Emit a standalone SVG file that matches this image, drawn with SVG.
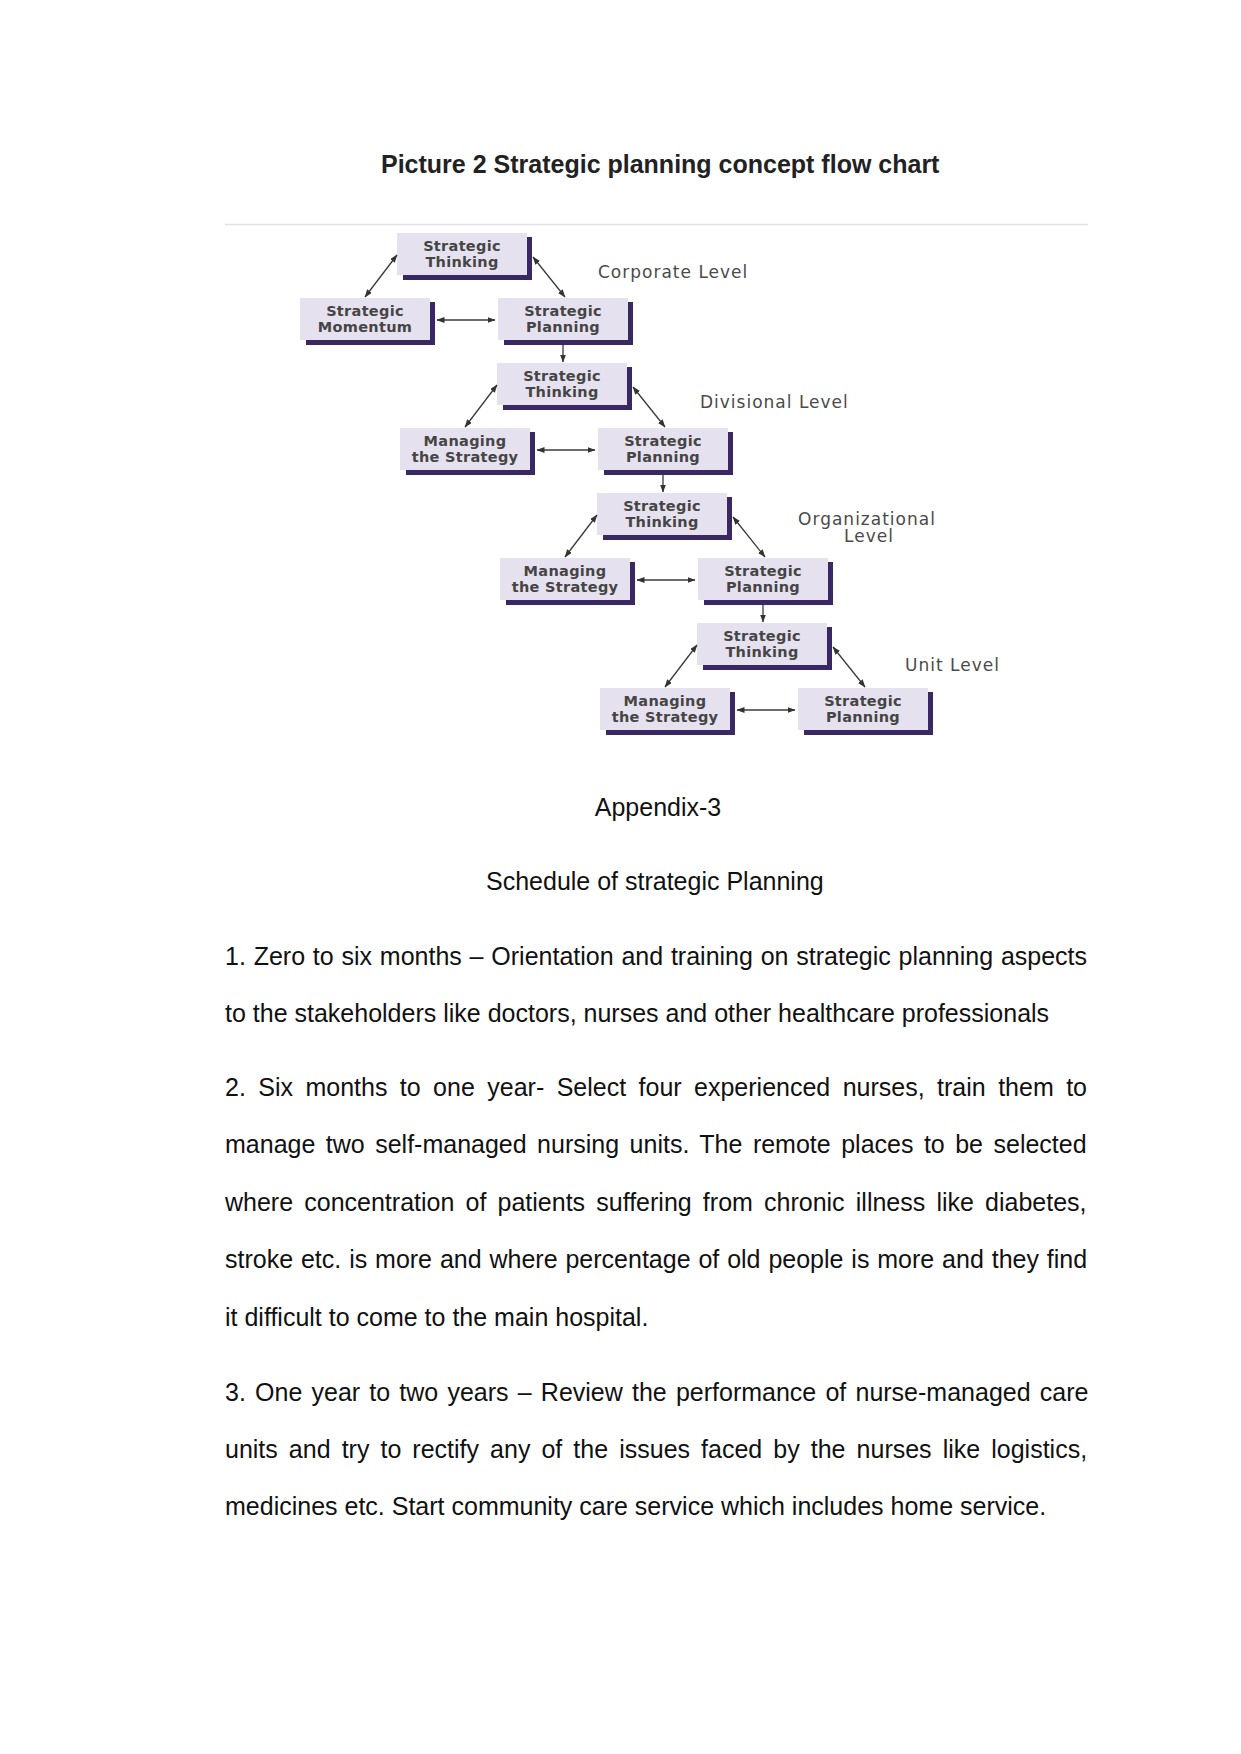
<svg xmlns="http://www.w3.org/2000/svg" width="1241" height="1754" viewBox="0 0 1241 1754">
<style>
.bg{fill:#ffffff}
.title{font-family:"Liberation Sans",Arial,sans-serif;font-size:25px;font-weight:bold;fill:#222}
.body{font-family:"Liberation Sans",Arial,sans-serif;font-size:25px;fill:#111}
.box{fill:#e6e1ef}
.shadow{fill:#392864}
.bt{font-family:"DejaVu Sans",Verdana,sans-serif;font-size:14.5px;font-weight:bold;fill:#454545;text-anchor:middle;letter-spacing:0.3px}
.lvl{font-family:"DejaVu Sans",Verdana,sans-serif;font-size:17px;fill:#4a4a4a;letter-spacing:1px}
.conn{stroke:#3a3a3a;stroke-width:1.3;fill:none}
</style>
<defs>
<marker id="ah" markerWidth="8" markerHeight="6" refX="7.5" refY="3" orient="auto-start-reverse" markerUnits="userSpaceOnUse">
<path d="M0,0 L8,3 L0,6 z" fill="#333"/>
</marker>
</defs>
<rect class="bg" x="0" y="0" width="1241" height="1754"/>

<text class="title" x="381" y="173">Picture 2 Strategic planning concept flow chart</text>
<line x1="225" y1="224.5" x2="1088" y2="224.5" stroke="#e2e2e2" stroke-width="1.5"/>

<!-- Corporate level -->
<g id="n-corp-thinking">
<rect class="shadow" x="403" y="237" width="129" height="43"/>
<rect class="box" x="397" y="233" width="130" height="42"/>
<text class="bt" x="462" y="251">Strategic</text>
<text class="bt" x="462" y="267">Thinking</text>
</g>
<g id="n-corp-momentum">
<rect class="shadow" x="306" y="302" width="129" height="43"/>
<rect class="box" x="300" y="298" width="130" height="42"/>
<text class="bt" x="365" y="316">Strategic</text>
<text class="bt" x="365" y="332">Momentum</text>
</g>
<g id="n-corp-planning">
<rect class="shadow" x="504" y="302" width="129" height="43"/>
<rect class="box" x="498" y="298" width="130" height="42"/>
<text class="bt" x="563" y="316">Strategic</text>
<text class="bt" x="563" y="332">Planning</text>
</g>
<text id="l-corp" class="lvl" x="598" y="278">Corporate Level</text>

<!-- Divisional level -->
<g id="n-div-thinking">
<rect class="shadow" x="503" y="367" width="129" height="43"/>
<rect class="box" x="497" y="363" width="130" height="42"/>
<text class="bt" x="562" y="381">Strategic</text>
<text class="bt" x="562" y="397">Thinking</text>
</g>
<g id="n-div-managing">
<rect class="shadow" x="406" y="432" width="129" height="43"/>
<rect class="box" x="400" y="428" width="130" height="42"/>
<text class="bt" x="465" y="446">Managing</text>
<text class="bt" x="465" y="462">the Strategy</text>
</g>
<g id="n-div-planning">
<rect class="shadow" x="604" y="432" width="129" height="43"/>
<rect class="box" x="598" y="428" width="130" height="42"/>
<text class="bt" x="663" y="446">Strategic</text>
<text class="bt" x="663" y="462">Planning</text>
</g>
<text id="l-div" class="lvl" x="700" y="408">Divisional Level</text>

<!-- Organizational level -->
<g id="n-org-thinking">
<rect class="shadow" x="603" y="497" width="129" height="43"/>
<rect class="box" x="597" y="493" width="130" height="42"/>
<text class="bt" x="662" y="511">Strategic</text>
<text class="bt" x="662" y="527">Thinking</text>
</g>
<g id="n-org-managing">
<rect class="shadow" x="506" y="562" width="129" height="43"/>
<rect class="box" x="500" y="558" width="130" height="42"/>
<text class="bt" x="565" y="576">Managing</text>
<text class="bt" x="565" y="592">the Strategy</text>
</g>
<g id="n-org-planning">
<rect class="shadow" x="704" y="562" width="129" height="43"/>
<rect class="box" x="698" y="558" width="130" height="42"/>
<text class="bt" x="763" y="576">Strategic</text>
<text class="bt" x="763" y="592">Planning</text>
</g>
<text id="l-org" class="lvl" text-anchor="middle"><tspan x="867" y="525">Organizational</tspan><tspan x="869" y="542">Level</tspan></text>

<!-- Unit level -->
<g id="n-unit-thinking">
<rect class="shadow" x="703" y="627" width="129" height="43"/>
<rect class="box" x="697" y="623" width="130" height="42"/>
<text class="bt" x="762" y="641">Strategic</text>
<text class="bt" x="762" y="657">Thinking</text>
</g>
<g id="n-unit-managing">
<rect class="shadow" x="606" y="692" width="129" height="43"/>
<rect class="box" x="600" y="688" width="130" height="42"/>
<text class="bt" x="665" y="706">Managing</text>
<text class="bt" x="665" y="722">the Strategy</text>
</g>
<g id="n-unit-planning">
<rect class="shadow" x="804" y="692" width="129" height="43"/>
<rect class="box" x="798" y="688" width="130" height="42"/>
<text class="bt" x="863" y="706">Strategic</text>
<text class="bt" x="863" y="722">Planning</text>
</g>
<text id="l-unit" class="lvl" x="905" y="671">Unit Level</text>

<g id="connectors" class="conn">
<line x1="397" y1="255" x2="365" y2="297" marker-start="url(#ah)" marker-end="url(#ah)"/>
<line x1="533" y1="257" x2="565" y2="297" marker-start="url(#ah)" marker-end="url(#ah)"/>
<line x1="437" y1="320" x2="495" y2="320" marker-start="url(#ah)" marker-end="url(#ah)"/>
<line x1="563" y1="345" x2="563" y2="362" marker-end="url(#ah)"/>

<line x1="497" y1="385" x2="465" y2="427" marker-start="url(#ah)" marker-end="url(#ah)"/>
<line x1="633" y1="387" x2="665" y2="427" marker-start="url(#ah)" marker-end="url(#ah)"/>
<line x1="537" y1="450" x2="595" y2="450" marker-start="url(#ah)" marker-end="url(#ah)"/>
<line x1="663" y1="475" x2="663" y2="492" marker-end="url(#ah)"/>

<line x1="597" y1="515" x2="565" y2="557" marker-start="url(#ah)" marker-end="url(#ah)"/>
<line x1="733" y1="517" x2="765" y2="557" marker-start="url(#ah)" marker-end="url(#ah)"/>
<line x1="637" y1="580" x2="695" y2="580" marker-start="url(#ah)" marker-end="url(#ah)"/>
<line x1="763" y1="605" x2="763" y2="622" marker-end="url(#ah)"/>

<line x1="697" y1="645" x2="665" y2="687" marker-start="url(#ah)" marker-end="url(#ah)"/>
<line x1="833" y1="647" x2="865" y2="687" marker-start="url(#ah)" marker-end="url(#ah)"/>
<line x1="737" y1="710" x2="795" y2="710" marker-start="url(#ah)" marker-end="url(#ah)"/>
</g>

<text class="body" x="658" y="816" text-anchor="middle">Appendix-3</text>
<text class="body" x="486" y="890">Schedule of strategic Planning</text>

<text class="body" x="225" y="965" word-spacing="0.85">1. Zero to six months – Orientation and training on strategic planning aspects</text>
<text class="body" x="225" y="1022">to the stakeholders like doctors, nurses and other healthcare professionals</text>

<text class="body" x="225" y="1096" word-spacing="5.48">2. Six months to one year- Select four experienced nurses, train them to</text>
<text class="body" x="225" y="1153" word-spacing="3.52">manage two self-managed nursing units. The remote places to be selected</text>
<text class="body" x="225" y="1211" word-spacing="4.22">where concentration of patients suffering from chronic illness like diabetes,</text>
<text class="body" x="225" y="1268" word-spacing="0.93">stroke etc. is more and where percentage of old people is more and they find</text>
<text class="body" x="225" y="1326">it difficult to come to the main hospital.</text>

<text class="body" x="225" y="1401" word-spacing="2.24">3. One year to two years – Review the performance of nurse-managed care</text>
<text class="body" x="225" y="1458" word-spacing="4.11">units and try to rectify any of the issues faced by the nurses like logistics,</text>
<text class="body" x="225" y="1515">medicines etc. Start community care service which includes home service.</text>
</svg>
